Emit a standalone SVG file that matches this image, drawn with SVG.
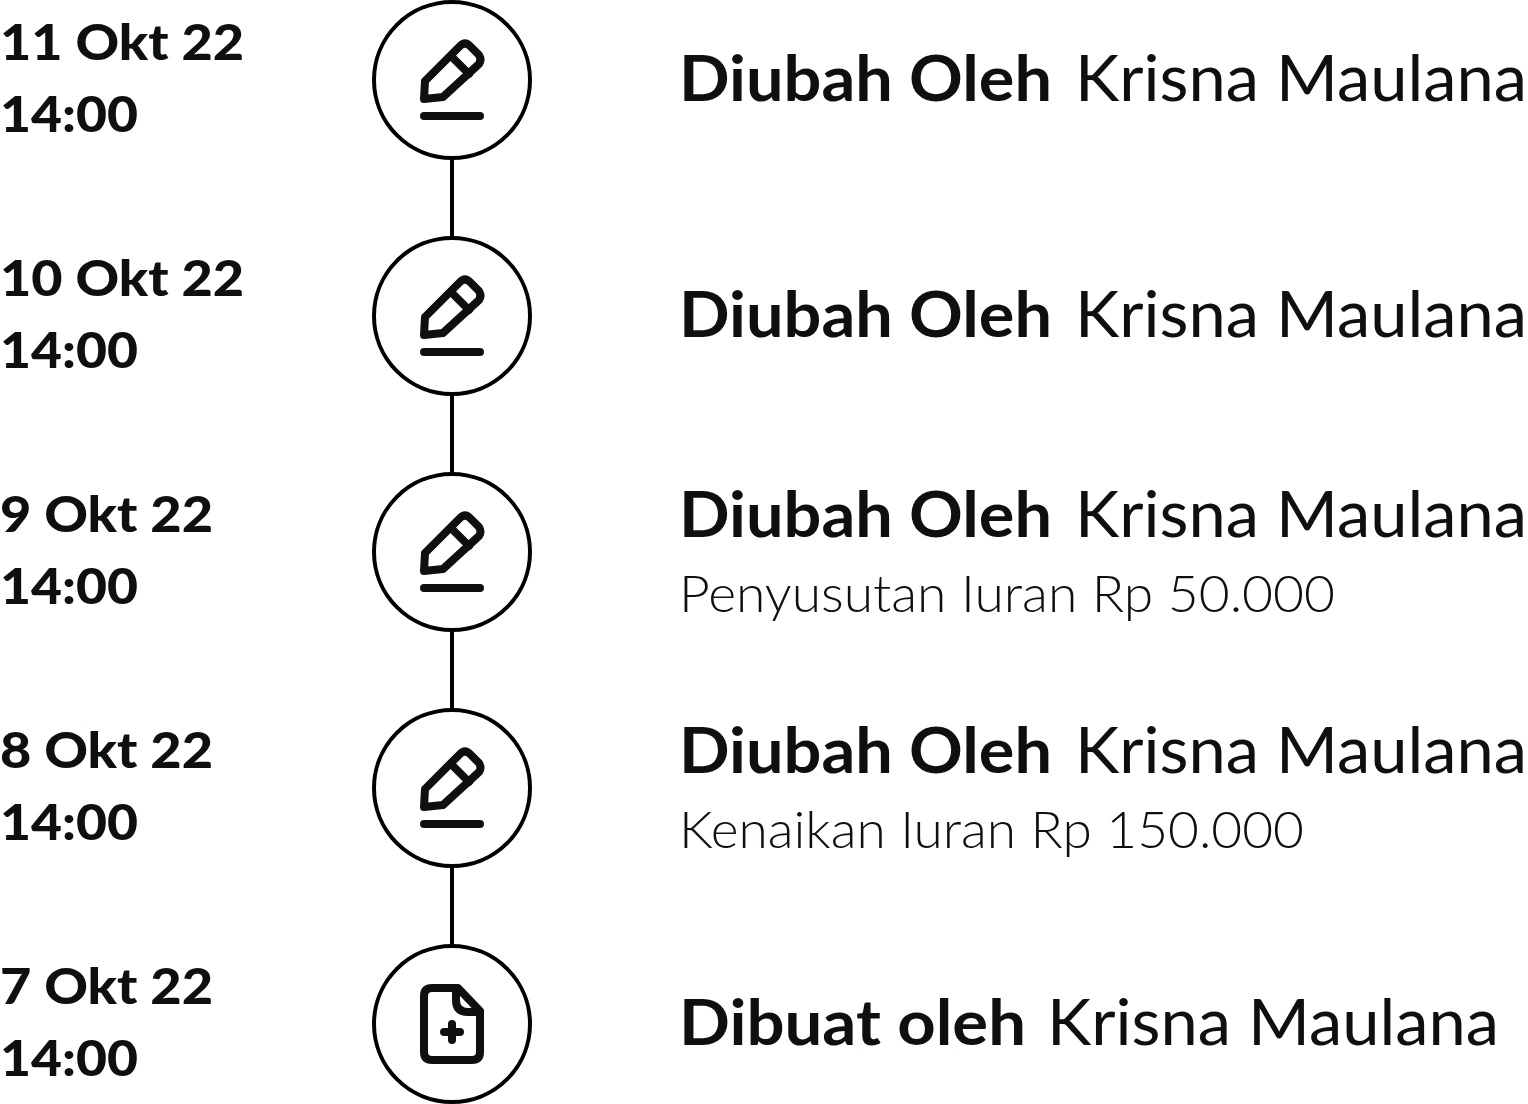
<svg xmlns="http://www.w3.org/2000/svg" width="1528" height="1104" viewBox="0 0 1528 1104">
<style>
text{font-family:"Lato","Noto Sans","Liberation Sans",sans-serif;fill:#0d0f11}
.d{font-size:50px;font-weight:900}
.b{font-size:63px;font-weight:700}
.n{font-size:63px;font-weight:400}
.s{font-size:51px;font-weight:300}
.c{fill:#fff;stroke:#000;stroke-width:4}
.i{fill:none;stroke:#0d0f11;stroke-width:8;stroke-linecap:round;stroke-linejoin:round}
.l{stroke:#000;stroke-width:4;fill:none}
</style>
<defs>
<g id="pen" class="i"><path d="M424 99L425 81L460 46Q465 41 470 46L479 55Q482 60 479 64L443 97Z"/><path d="M453 58L469 74"/><path d="M424 116H480"/></g>
<g id="doc" class="i"><path d="M432 988H458L480 1011V1052Q480 1060 472 1060H432Q424 1060 424 1052V996Q424 988 432 988Z"/><path d="M456 990V1000Q456 1012 468 1012H480"/><path d="M444 1032H460M452 1024V1040"/></g>
</defs>
<g id="connectors">
<path class="l" d="M452 158V238M452 394V474M452 630V710M452 866V946"/>
</g>
<g id="node-1"><circle class="c" cx="452" cy="80" r="78"/><use href="#pen"/>
<text class="d" x="0" y="60" textLength="244" lengthAdjust="spacingAndGlyphs">11 Okt 22</text><text class="d" x="0" y="132" textLength="138" lengthAdjust="spacingAndGlyphs">14:00</text>
<text class="b" x="679" y="101" textLength="373" lengthAdjust="spacingAndGlyphs">Diubah Oleh</text><text class="n" x="1075" y="101" textLength="452" lengthAdjust="spacingAndGlyphs">Krisna Maulana</text></g>
<g id="node-2"><circle class="c" cx="452" cy="316" r="78"/><use href="#pen" y="236"/>
<text class="d" x="0" y="296" textLength="244" lengthAdjust="spacingAndGlyphs">10 Okt 22</text><text class="d" x="0" y="368" textLength="138" lengthAdjust="spacingAndGlyphs">14:00</text>
<text class="b" x="679" y="337" textLength="373" lengthAdjust="spacingAndGlyphs">Diubah Oleh</text><text class="n" x="1075" y="337" textLength="452" lengthAdjust="spacingAndGlyphs">Krisna Maulana</text></g>
<g id="node-3"><circle class="c" cx="452" cy="552" r="78"/><use href="#pen" y="472"/>
<text class="d" x="0" y="532" textLength="213" lengthAdjust="spacingAndGlyphs">9 Okt 22</text><text class="d" x="0" y="604" textLength="138" lengthAdjust="spacingAndGlyphs">14:00</text>
<text class="b" x="679" y="537" textLength="373" lengthAdjust="spacingAndGlyphs">Diubah Oleh</text><text class="n" x="1075" y="537" textLength="452" lengthAdjust="spacingAndGlyphs">Krisna Maulana</text>
<text class="s" x="679" y="612" textLength="656" lengthAdjust="spacingAndGlyphs">Penyusutan Iuran Rp 50.000</text></g>
<g id="node-4"><circle class="c" cx="452" cy="788" r="78"/><use href="#pen" y="708"/>
<text class="d" x="0" y="768" textLength="213" lengthAdjust="spacingAndGlyphs">8 Okt 22</text><text class="d" x="0" y="840" textLength="138" lengthAdjust="spacingAndGlyphs">14:00</text>
<text class="b" x="679" y="773" textLength="373" lengthAdjust="spacingAndGlyphs">Diubah Oleh</text><text class="n" x="1075" y="773" textLength="452" lengthAdjust="spacingAndGlyphs">Krisna Maulana</text>
<text class="s" x="679" y="848" textLength="625" lengthAdjust="spacingAndGlyphs">Kenaikan Iuran Rp 150.000</text></g>
<g id="node-5"><circle class="c" cx="452" cy="1024" r="78"/><use href="#doc"/>
<text class="d" x="0" y="1004" textLength="213" lengthAdjust="spacingAndGlyphs">7 Okt 22</text><text class="d" x="0" y="1076" textLength="138" lengthAdjust="spacingAndGlyphs">14:00</text>
<text class="b" x="679" y="1045" textLength="347" lengthAdjust="spacingAndGlyphs">Dibuat oleh</text><text class="n" x="1047" y="1045" textLength="452" lengthAdjust="spacingAndGlyphs">Krisna Maulana</text></g>
</svg>
